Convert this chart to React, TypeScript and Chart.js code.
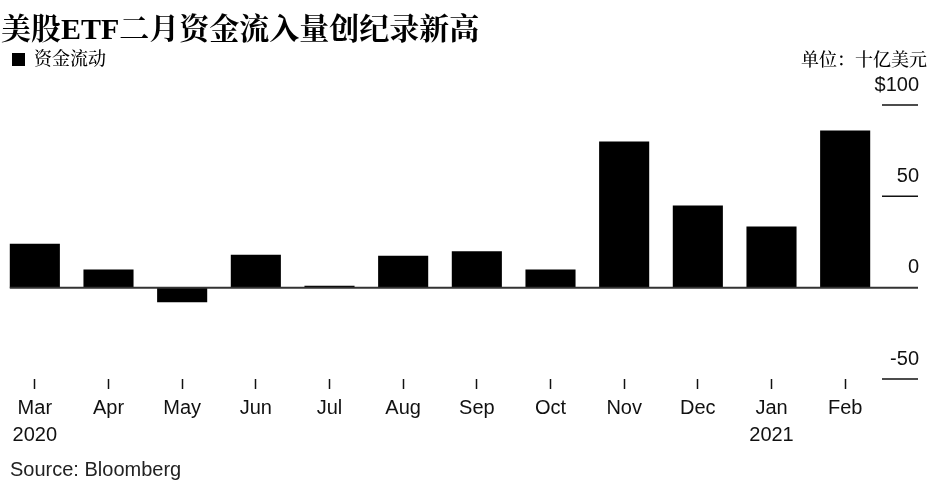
import React, { useEffect, useRef } from "react";
import { Chart, registerables } from "chart.js";

Chart.register(...registerables);

const months = ["Mar", "Apr", "May", "Jun", "Jul", "Aug", "Sep", "Oct", "Nov", "Dec", "Jan", "Feb"];
const yearLabels = ["2020", "", "", "", "", "", "", "", "", "", "2021", ""];
const flows = [24, 10, -8, 18, 1, 17.5, 20, 10, 80, 45, 33.5, 86];
const yTickValues = [100, 50, 0, -50];
const yTickLabels = ["$100", "50", "0", "-50"];

const titleText = "美股ETF二月资金流入量创纪录新高";
const legendText = "资金流动";
const unitText = "单位：十亿美元";
const sourceText = "Source: Bloomberg";

const BAR_PCT = 0.68;
const SANS = '"Liberation Sans", Arial, sans-serif';
const CJK = '"Liberation Serif", "Noto Serif CJK SC", "Noto Sans CJK SC", serif';

const refPlugin = {
  id: "refLines",
  afterDatasetsDraw(chart: any) {
    const { ctx, chartArea, scales } = chart;
    const x = scales.x;
    const y = scales.y;
    const cat = (chartArea.right - chartArea.left) / months.length;
    const lineL = x.getPixelForValue(0) - (cat * BAR_PCT) / 2;
    const tickR = chartArea.right + 36;
    ctx.save();
    yTickValues.forEach((v, i) => {
      const py = y.getPixelForValue(v);
      ctx.beginPath();
      if (v === 0) {
        ctx.strokeStyle = "#333";
        ctx.lineWidth = 2;
        ctx.moveTo(lineL, py);
      } else {
        ctx.strokeStyle = "#111";
        ctx.lineWidth = 1.5;
        ctx.moveTo(chartArea.right, py);
      }
      ctx.lineTo(tickR, py);
      ctx.stroke();
      ctx.fillStyle = "#111";
      ctx.font = `20px ${SANS}`;
      ctx.textAlign = "right";
      ctx.textBaseline = "middle";
      ctx.fillText(yTickLabels[i], tickR + 1, py - 20);
    });
    ctx.restore();
  },
};

export default function App() {
  const ref = useRef<HTMLCanvasElement | null>(null);

  useEffect(() => {
    if (!ref.current) return;
    const labels = months.map((m, i) => (yearLabels[i] ? [m, yearLabels[i]] : m));
    const chart = new Chart(ref.current, {
      type: "bar",
      data: {
        labels,
        datasets: [
          {
            label: legendText,
            data: flows,
            backgroundColor: "#000",
            borderWidth: 0,
            categoryPercentage: 1,
            barPercentage: BAR_PCT,
          },
        ],
      },
      options: {
        responsive: false,
        animation: false,
        devicePixelRatio: 1,
        layout: { padding: { top: 105, right: 66, bottom: 34, left: 0 } },
        plugins: {
          legend: { display: false },
          tooltip: { enabled: false },
        },
        scales: {
          x: {
            grid: {
              offset: false,
              drawOnChartArea: false,
              drawTicks: true,
              tickLength: 10,
              tickColor: "#111",
              tickWidth: 1.5,
            },
            border: { display: false },
            ticks: {
              color: "#111",
              padding: 6,
              maxRotation: 0,
              autoSkip: false,
              font: { family: SANS, size: 20, lineHeight: 1.35 },
            },
          },
          y: {
            display: false,
            min: -50,
            max: 100,
          },
        },
      },
      plugins: [refPlugin],
    });
    return () => chart.destroy();
  }, []);

  return (
    <div
      style={{
        position: "absolute",
        left: 0,
        top: 0,
        width: 948,
        height: 489,
        background: "#fff",
        overflow: "hidden",
      }}
    >
      <canvas
        ref={ref}
        width={950}
        height={489}
        style={{ position: "absolute", left: -2, top: 0, width: 950, height: 489, display: "block" }}
      />
      <div
        style={{
          position: "absolute",
          left: 1,
          top: 14,
          fontSize: 30,
          lineHeight: "30px",
          fontWeight: 700,
          fontFamily: CJK,
          color: "#000",
          whiteSpace: "nowrap",
        }}
      >
        {titleText}
      </div>
      <div style={{ position: "absolute", left: 12, top: 53, width: 13, height: 13, background: "#000" }} />
      <div
        style={{
          position: "absolute",
          left: 34,
          top: 50,
          fontSize: 18,
          lineHeight: "18px",
          fontWeight: 500,
          fontFamily: CJK,
          color: "#000",
          whiteSpace: "nowrap",
        }}
      >
        {legendText}
      </div>
      <div
        style={{
          position: "absolute",
          right: 21,
          top: 51,
          fontSize: 18,
          lineHeight: "18px",
          fontWeight: 500,
          fontFamily: CJK,
          color: "#000",
          whiteSpace: "nowrap",
        }}
      >
        {unitText}
      </div>
      <div
        style={{
          position: "absolute",
          left: 10,
          top: 459,
          fontSize: 20,
          lineHeight: "20px",
          fontFamily: SANS,
          color: "#222",
          whiteSpace: "nowrap",
        }}
      >
        {sourceText}
      </div>
    </div>
  );
}
